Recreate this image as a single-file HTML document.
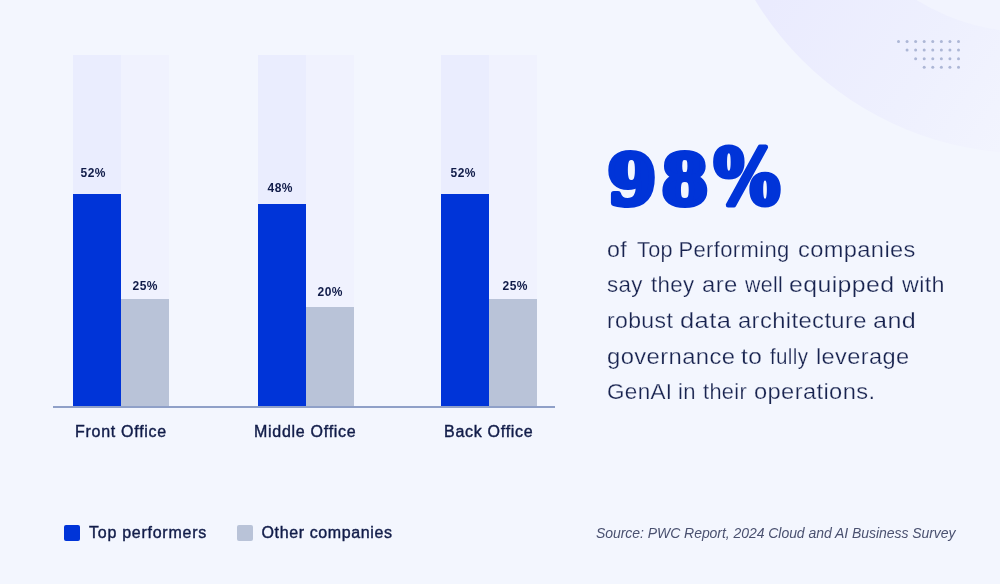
<!DOCTYPE html>
<html lang="en">
<head>
<meta charset="utf-8">
<title>98% of Top Performing companies</title>
<style>
  html, body { margin: 0; padding: 0; }
  body {
    width: 1000px; height: 584px; overflow: hidden; position: relative;
    background: #F3F6FE;
    font-family: "Liberation Sans", sans-serif;
    color: #14204A;
  }
  .abs { position: absolute; }
  #deco { left: 0; top: 0; width: 1000px; height: 584px; }
  .track { top: 55px; height: 351px; width: 48px; }
  .track.a { background: #EAEDFE; }
  .track.b { background: #F0F2FE; }
  .bar { width: 48px; }
  .bar.blue { background: #0034D8; }
  .bar.grey { background: #B9C3D8; }
  .axis { left: 53px; top: 406px; width: 502px; height: 2px; background: #8FA0C8; }
  .val {
    font-weight: bold; font-size: 12px; line-height: 12px; width: 48px; text-align: center;
    color: #111C49; letter-spacing: 0.45px; text-indent: 0.45px; white-space: nowrap;
  }
  .cat {
    font-size: 16px; line-height: 20px; white-space: nowrap; color: #111C49;
    letter-spacing: 0.72px; -webkit-text-stroke: 0.4px #111C49;
  }
  .sw { width: 16px; height: 16px; border-radius: 2px; top: 525px; }
  .leg {
    font-size: 16px; line-height: 20px; white-space: nowrap; color: #111C49;
    letter-spacing: 0.74px; -webkit-text-stroke: 0.4px #111C49; top: 523px;
  }
  #big { left: 0; top: 0; width: 1000px; height: 584px; }
  #big text { font-family: "DejaVu Serif", "Liberation Serif", serif; font-weight: bold; fill: #0034D8; stroke: #0034D8; stroke-linejoin: round; }
  .para { left: 607px; top: 0; margin: 0; }
  .para span {
    position: absolute; left: 0; display: block; white-space: nowrap; transform-origin: 0 0;
    font-size: 22px; line-height: 24px; color: #18234F; -webkit-text-stroke: 0.25px #F3F6FE;
  }
  .src {
    left: 596px; top: 524px; margin: 0; white-space: nowrap;
    font-size: 14px; line-height: 18px; font-style: italic; color: #4A5170; letter-spacing: -0.05px;
  }
</style>
</head>
<body>
<svg id="deco" class="abs" viewBox="0 0 1000 584">
  <defs>
    <linearGradient id="ringg" gradientUnits="userSpaceOnUse" x1="770" y1="0" x2="1000" y2="150">
      <stop offset="0" stop-color="#EAEBFE"/>
      <stop offset="0.6" stop-color="#EEF0FE"/>
      <stop offset="1" stop-color="#F2F4FE"/>
    </linearGradient>
    <clipPath id="cp"><rect x="0" y="0" width="1000" height="584"/></clipPath>
  </defs>
  <g clip-path="url(#cp)">
    <circle cx="1028" cy="-166" r="319.5" fill="url(#ringg)"/>
    <circle cx="1030.6" cy="-185.9" r="218.2" fill="#F2F4FE"/>
  </g>
  <g fill="#ADB7D6">
    <circle cx="898.5" cy="41.5" r="1.5"/><circle cx="907.07" cy="41.5" r="1.5"/><circle cx="915.64" cy="41.5" r="1.5"/><circle cx="924.21" cy="41.5" r="1.5"/><circle cx="932.78" cy="41.5" r="1.5"/><circle cx="941.35" cy="41.5" r="1.5"/><circle cx="949.92" cy="41.5" r="1.5"/><circle cx="958.5" cy="41.5" r="1.5"/>
    <circle cx="907.07" cy="50.07" r="1.5"/><circle cx="915.64" cy="50.07" r="1.5"/><circle cx="924.21" cy="50.07" r="1.5"/><circle cx="932.78" cy="50.07" r="1.5"/><circle cx="941.35" cy="50.07" r="1.5"/><circle cx="949.92" cy="50.07" r="1.5"/><circle cx="958.5" cy="50.07" r="1.5"/>
    <circle cx="915.64" cy="58.64" r="1.5"/><circle cx="924.21" cy="58.64" r="1.5"/><circle cx="932.78" cy="58.64" r="1.5"/><circle cx="941.35" cy="58.64" r="1.5"/><circle cx="949.92" cy="58.64" r="1.5"/><circle cx="958.5" cy="58.64" r="1.5"/>
    <circle cx="924.21" cy="67.21" r="1.5"/><circle cx="932.78" cy="67.21" r="1.5"/><circle cx="941.35" cy="67.21" r="1.5"/><circle cx="949.92" cy="67.21" r="1.5"/><circle cx="958.5" cy="67.21" r="1.5"/>
  </g>
</svg>

<!-- chart tracks -->
<div class="abs track a" style="left:73px"></div><div class="abs track b" style="left:121px"></div>
<div class="abs track a" style="left:258px"></div><div class="abs track b" style="left:306px"></div>
<div class="abs track a" style="left:441px"></div><div class="abs track b" style="left:489px"></div>

<!-- bars -->
<div class="abs bar blue" style="left:73px;top:194px;height:212px"></div>
<div class="abs bar grey" style="left:121px;top:299px;height:107px"></div>
<div class="abs bar blue" style="left:258px;top:204px;height:202px"></div>
<div class="abs bar grey" style="left:306px;top:307px;height:99px"></div>
<div class="abs bar blue" style="left:441px;top:194px;height:212px"></div>
<div class="abs bar grey" style="left:489px;top:299px;height:107px"></div>
<div class="abs axis"></div>

<!-- values -->
<div class="abs val" style="left:69px;top:167px">52%</div>
<div class="abs val" style="left:121px;top:280px">25%</div>
<div class="abs val" style="left:256px;top:182px">48%</div>
<div class="abs val" style="left:306px;top:286px">20%</div>
<div class="abs val" style="left:439px;top:167px">52%</div>
<div class="abs val" style="left:491px;top:280px">25%</div>

<!-- categories -->
<div class="abs cat" style="left:75px;top:422px">Front Office</div>
<div class="abs cat" style="left:254px;top:422px">Middle Office</div>
<div class="abs cat" style="left:444px;top:422px">Back Office</div>

<!-- legend -->
<div class="abs sw" style="left:64px;background:#0034D8"></div>
<div class="abs leg" style="left:89px">Top performers</div>
<div class="abs sw" style="left:237px;background:#B9C3D8"></div>
<div class="abs leg" style="left:261.5px;letter-spacing:0.62px">Other companies</div>

<!-- headline -->
<svg id="big" class="abs" viewBox="0 0 1000 584">
  <text x="0" y="0" font-size="70" stroke-width="6" transform="translate(607.4 203.8)">9</text>
  <text x="0" y="0" font-size="70" stroke-width="6" transform="translate(661.8 203.8) scale(0.95 1)">8</text>
  <text x="0" y="0" font-size="76" stroke-width="5" transform="translate(713.8 203.8) scale(0.92 1)">%</text>
</svg>
<p class="abs para"><span style="left:-0.5px;top:238.3px;letter-spacing:0.35px;transform:scaleX(1.057)">of</span> <span style="left:29.9px;top:238.3px;letter-spacing:0.35px;transform:scaleX(0.983)">Top</span> <span style="left:71.5px;top:238.3px;letter-spacing:0.35px;transform:scaleX(1.000)">Performing</span> <span style="left:191.3px;top:238.3px;letter-spacing:0.35px;transform:scaleX(1.075)">companies</span> <span style="left:-0.4px;top:273.3px;letter-spacing:0.35px;transform:scaleX(1.015)">say</span> <span style="left:43.9px;top:273.3px;letter-spacing:0.35px;transform:scaleX(1.013)">they</span> <span style="left:94.9px;top:273.3px;letter-spacing:0.35px;transform:scaleX(1.088)">are</span> <span style="left:137.9px;top:273.3px;letter-spacing:0.35px;transform:scaleX(0.970)">well</span> <span style="left:182.3px;top:273.3px;letter-spacing:0.35px;transform:scaleX(1.129)">equipped</span> <span style="left:295.0px;top:273.3px;letter-spacing:0.35px;transform:scaleX(1.060)">with</span> <span style="left:-0.1px;top:309.3px;letter-spacing:0.35px;transform:scaleX(1.046)">robust</span> <span style="left:72.8px;top:309.3px;letter-spacing:0.35px;transform:scaleX(1.159)">data</span> <span style="left:131.2px;top:309.3px;letter-spacing:0.35px;transform:scaleX(1.082)">architecture</span> <span style="left:265.7px;top:309.3px;letter-spacing:0.35px;transform:scaleX(1.143)">and</span> <span style="left:-0.2px;top:344.6px;letter-spacing:0.35px;transform:scaleX(1.083)">governance</span> <span style="left:134.2px;top:344.6px;letter-spacing:0.35px;transform:scaleX(1.112)">to</span> <span style="left:163.4px;top:344.6px;letter-spacing:0.35px;transform:scaleX(0.936)">fully</span> <span style="left:208.6px;top:344.6px;letter-spacing:0.35px;transform:scaleX(1.073)">leverage</span> <span style="left:-0.1px;top:380.3px;letter-spacing:0.35px;transform:scaleX(1.021)">GenAI</span> <span style="left:70.7px;top:380.3px;letter-spacing:0.35px;transform:scaleX(1.003)">in</span> <span style="left:95.6px;top:380.3px;letter-spacing:0.35px;transform:scaleX(0.989)">their</span> <span style="left:147.2px;top:380.3px;letter-spacing:0.35px;transform:scaleX(1.077)">operations.</span></p>
<p class="abs src">Source: PWC Report, 2024 Cloud and AI Business Survey</p>
</body>
</html>
